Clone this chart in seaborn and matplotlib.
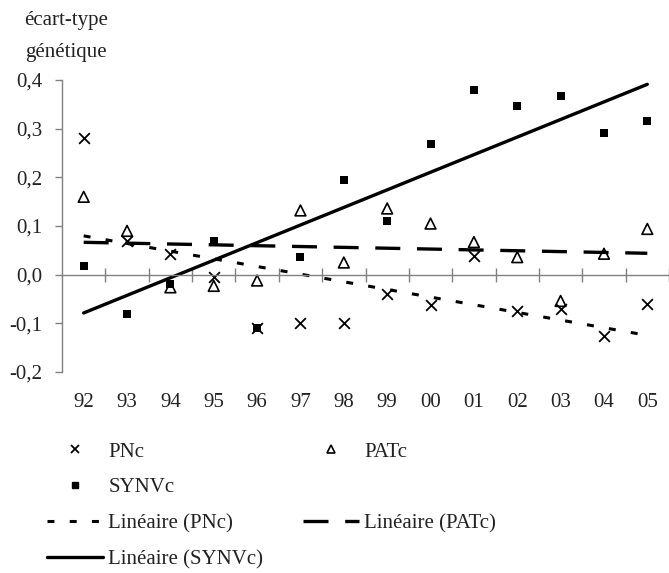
import numpy as np
import pandas as pd
import matplotlib
matplotlib.use("Agg")
import matplotlib.pyplot as plt
import seaborn as sns
from matplotlib.lines import Line2D

# ---- data ----
years = ["92", "93", "94", "95", "96", "97", "98", "99", "00", "01", "02", "03", "04", "05"]
pnc = [0.28, 0.07, 0.043, -0.005, -0.11, -0.10, -0.10, -0.04, -0.062, 0.039, -0.074, -0.07, -0.126, -0.06]
patc = [0.16, 0.09, -0.026, -0.023, -0.012, 0.132, 0.025, 0.136, 0.105, 0.067, 0.036, -0.054, 0.043, 0.094]
synvc = [0.017, -0.08, -0.019, 0.07, -0.11, 0.036, 0.194, 0.111, 0.268, 0.379, 0.346, 0.367, 0.292, 0.316]
yticks = [-0.2, -0.1, 0.0, 0.1, 0.2, 0.3, 0.4]
ytick_labels = ["-0,2", "-0,1", "0,0", "0,1", "0,2", "0,3", "0,4"]
series_names = ["PNc", "PATc", "SYNVc"]
trend_labels = ["Linéaire (PNc)", "Linéaire (PATc)", "Linéaire (SYNVc)"]
ylabel_lines = ["écart-type", "génétique"]

sns.set_theme(style="white")
plt.rcParams['font.family'] = ['Liberation Serif', 'DejaVu Serif']
plt.rcParams['lines.scale_dashes'] = False

W, H = 669, 573
fig = plt.figure(figsize=(W / 100, H / 100), dpi=100)
ax = fig.add_axes([62 / W, 1 - 372 / H, 1 - 62 / W, (372 - 80) / H])

x = np.arange(len(years))
df = pd.DataFrame({"x": x, "PNc": pnc, "PATc": patc, "SYNVc": synvc})

pnc_dash = (5, 11)
patc_dash = (18, 12)

# trend lines
sns.regplot(data=df, x="x", y="PNc", scatter=False, ci=None, ax=ax, color="black",
            line_kws=dict(lw=2.2, dashes=pnc_dash))
sns.regplot(data=df, x="x", y="PATc", scatter=False, ci=None, ax=ax, color="black",
            line_kws=dict(lw=2.4, dashes=patc_dash))
sns.regplot(data=df, x="x", y="SYNVc", scatter=False, ci=None, ax=ax, color="black",
            line_kws=dict(lw=2.4))

# points
n0 = len(ax.collections)
sns.scatterplot(data=df, x="x", y="PNc", marker="x", s=60, color="black", linewidth=1.3, ax=ax)
sns.scatterplot(data=df, x="x", y="PATc", marker="^", s=60, color="black", linewidth=1.2, ax=ax)
sns.scatterplot(data=df, x="x", y="SYNVc", marker="s", s=28, color="black", linewidth=0, ax=ax)
cols = ax.collections[n0:]
cols[0].set_edgecolor("black"); cols[0].set_facecolor("black")
cols[1].set_facecolor("none"); cols[1].set_edgecolor("black")
cols[2].set_facecolor("black"); cols[2].set_edgecolor("black")

ax.set_xlim(-0.5, len(years) - 0.5)
ax.set_ylim(-0.2, 0.4)
ax.set_xlabel("")
ax.set_ylabel("")

for s in ["top", "right"]:
    ax.spines[s].set_visible(False)
ax.spines["bottom"].set_position(("data", 0))
for s in ["bottom", "left"]:
    ax.spines[s].set_color("#808080")
    ax.spines[s].set_linewidth(1.0)

ax.set_xticks(np.arange(0.5, len(years), 1.0))
ax.tick_params(axis="x", bottom=True, direction="inout", length=10, width=1.0,
               color="#808080", labelbottom=False)
ax.set_yticks(yticks, labels=ytick_labels)
ax.tick_params(axis="y", left=True, direction="out", length=5, width=1.0,
               color="#808080", pad=9, labelsize=15, labelcolor="#222222")

sec = ax.secondary_xaxis(0)
sec.set_xticks(x, labels=years)
sec.tick_params(length=0, pad=15, labelsize=15, labelcolor="#222222")
sec.spines["bottom"].set_visible(False)

fig.text(66 / W, 1 - 20 / H, ylabel_lines[0], ha="center", va="center", fontsize=15, color="#222222")
fig.text(66 / W, 1 - 52 / H, ylabel_lines[1], ha="center", va="center", fontsize=15, color="#222222")

# legend (Excel-like two-column layout)
h_pnc = Line2D([], [], ls="none", marker="x", color="black", markersize=6, mew=1.3)
h_patc = Line2D([], [], ls="none", marker="^", mfc="none", mec="black", markersize=6, mew=1.2)
h_syn = Line2D([], [], ls="none", marker="s", color="black", markersize=4.5)
h_blank = Line2D([], [], ls="none")
h_lpnc = Line2D([], [], color="black", lw=2.2, dashes=pnc_dash)
h_lpatc = Line2D([], [], color="black", lw=2.4, dashes=patc_dash)
h_lsyn = Line2D([], [], color="black", lw=2.4)
handles = [h_pnc, h_syn, h_lpnc, h_lsyn, h_patc, h_blank, h_lpatc, h_blank]
labels = [series_names[0], series_names[2], trend_labels[0], trend_labels[2],
          series_names[1], "", trend_labels[1], ""]
fig.legend(handles, labels, loc="upper left", bbox_to_anchor=(47 / W, 1 - 442 / H),
           ncol=2, frameon=False, fontsize=15, handlelength=2.7, handletextpad=0.25,
           columnspacing=1.9, labelspacing=0.78, borderpad=0, borderaxespad=0,
           labelcolor="#222222")

fig.savefig("out.png", dpi=100)
